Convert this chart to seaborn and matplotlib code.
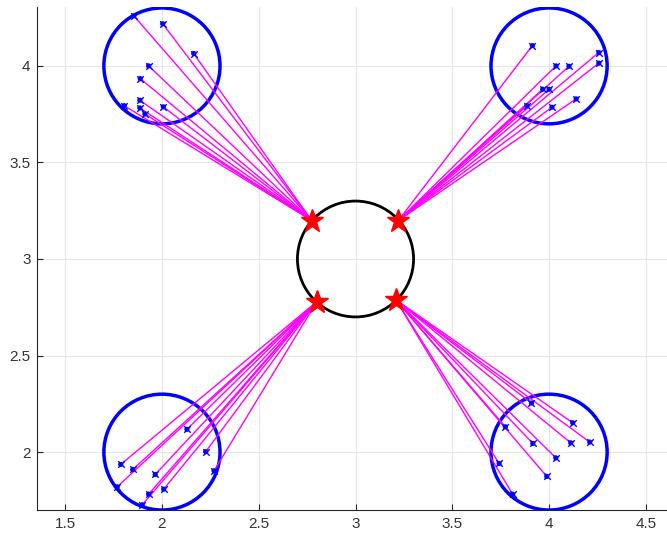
"""Quatre grappes de cibles reliées aux étoiles du cercle central."""

import matplotlib
matplotlib.use("Agg")
import matplotlib.pyplot as plt
import numpy as np
import pandas as pd
import seaborn as sns
from matplotlib.patches import Circle

# centres des cercles bleus (zones cibles) et cercle central
zone_x = [2.0, 4.0, 2.0, 4.0]
zone_y = [4.0, 4.0, 2.0, 2.0]
zone_r = 0.3
hub_x, hub_y, hub_r = 3.0, 3.0, 0.3

# étoiles rouges sur le cercle central (même ordre que les zones)
star_x = [2.774, 3.221, 2.800, 3.209]
star_y = [3.199, 3.199, 2.779, 2.788]

# points de chaque grappe
tl_x = [1.855, 2.004, 2.164, 1.931, 1.888, 1.805, 1.886, 1.886, 2.007, 1.912]
tl_y = [4.259, 4.218, 4.064, 4.000, 3.934, 3.794, 3.822, 3.782, 3.788, 3.751]
tr_x = [3.914, 4.036, 4.103, 4.257, 4.257, 3.967, 4.000, 3.886, 4.015, 4.140]
tr_y = [4.105, 4.000, 3.998, 4.069, 4.014, 3.879, 3.879, 3.794, 3.786, 3.829]
bl_x = [1.787, 1.849, 2.129, 2.226, 2.269, 1.965, 1.769, 1.931, 2.009, 1.898]
bl_y = [1.936, 1.910, 2.118, 2.002, 1.903, 1.884, 1.820, 1.782, 1.808, 1.727]
br_x = [3.909, 3.774, 4.122, 3.916, 4.112, 4.210, 4.035, 3.742, 3.988, 3.812]
br_y = [2.254, 2.131, 2.152, 2.045, 2.048, 2.052, 1.970, 1.941, 1.874, 1.782]

clusters = [(tl_x, tl_y), (tr_x, tr_y), (bl_x, bl_y), (br_x, br_y)]

# segments étoile -> point, au format long pour seaborn
rows = []
pts = []
seg = 0
for k, (cx, cy) in enumerate(clusters):
    for px, py in zip(cx, cy):
        rows.append({"seg": seg, "x": star_x[k], "y": star_y[k], "o": 0})
        rows.append({"seg": seg, "x": px, "y": py, "o": 1})
        pts.append({"x": px, "y": py})
        seg += 1
segs = pd.DataFrame(rows)
points = pd.DataFrame(pts)

sns.set_style("white")
plt.rcParams["font.family"] = ["Liberation Sans", "DejaVu Sans"]

fig = plt.figure(figsize=(6.67, 5.38), dpi=100)
ax = fig.add_axes([0.0562, 0.052, 0.944, 0.935])

for zx, zy in zip(zone_x, zone_y):
    ax.add_patch(Circle((zx, zy), zone_r, fill=False, ec="#0000ff", lw=2.5, zorder=3))

sns.lineplot(data=segs, x="x", y="y", units="seg", estimator=None, sort=False,
             color="#ff00ff", lw=1.0, ax=ax, zorder=4)
sns.scatterplot(data=points, x="x", y="y", marker="o", s=14, color="#0000ff",
                edgecolor="none", ax=ax, zorder=5)
sns.scatterplot(data=points, x="x", y="y", marker="x", s=22, color="#0000ff",
                linewidth=1.0, ax=ax, zorder=5)

ax.add_patch(Circle((hub_x, hub_y), hub_r, fill=False, ec="black", lw=2.0, zorder=6))
ax.plot(star_x, star_y, ls="none", marker="*", ms=17, color="red", mec="red", zorder=7)

ax.set_xlim(1.357, 4.61)
ax.set_ylim(1.70, 4.305)
ax.set_xticks([1.5, 2, 2.5, 3, 3.5, 4, 4.5])
ax.set_xticklabels(["1.5", "2", "2.5", "3", "3.5", "4", "4.5"])
ax.set_yticks([2, 2.5, 3, 3.5, 4])
ax.set_yticklabels(["2", "2.5", "3", "3.5", "4"])
ax.set_xlabel("")
ax.set_ylabel("")
ax.grid(True, color="#e6e6e6", lw=0.8)
ax.set_axisbelow(True)
for s in ["top", "right"]:
    ax.spines[s].set_visible(False)
for s in ["left", "bottom"]:
    ax.spines[s].set_color("#262626")
    ax.spines[s].set_linewidth(0.8)
ax.tick_params(direction="in", length=4, width=0.8, colors="#262626",
               labelsize=11, labelcolor="#333333", left=True, bottom=True, pad=5)

fig.savefig("out.png", dpi=100)
plt.close(fig)
